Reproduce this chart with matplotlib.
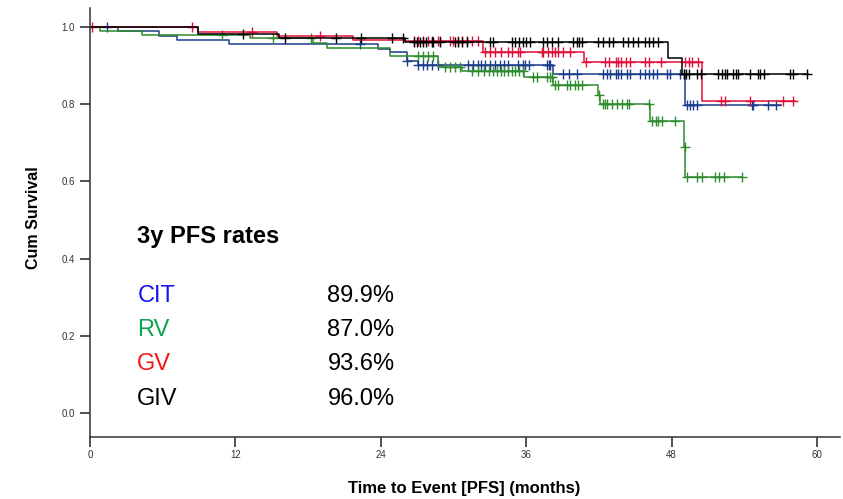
import numpy as np
import matplotlib.pyplot as plt

plt.rcParams["font.family"] = ["Liberation Sans", "DejaVu Sans"]

# Kaplan-Meier step data (months, cumulative survival)
cit_times = [0, 2.3, 5.7, 7.2, 11.5, 23.8, 24.8, 26.2, 27.1, 38.2, 49.1]
cit_surv = [1.0, 0.990, 0.977, 0.966, 0.956, 0.943, 0.934, 0.911, 0.900, 0.877, 0.797]
cit_end = 57.0
cit_cens = [1.4, 22.3, 26.2, 27.1, 27.5, 27.8, 28.2, 28.7, 31.2, 31.6, 32.0, 32.3, 32.6,
            33.0, 33.4, 33.8, 34.2, 34.5, 35.3, 35.7, 35.9, 36.2, 37.7, 37.9, 38.0,
            39.0, 39.5, 40.2, 42.3, 42.7, 42.9, 43.4, 43.6, 43.8, 44.3, 44.6, 45.4,
            45.8, 46.1, 46.5, 46.8, 47.6, 47.9, 48.7, 49.0, 49.3, 49.5, 49.8, 50.1,
            54.6, 54.7, 56.0, 56.6]

rv_times = [0, 0.8, 4.3, 13.2, 18.4, 19.6, 24.8, 28.7, 30.7, 35.8, 38.2, 41.9, 42.1,
            46.2, 49.05, 49.15]
rv_surv = [1.0, 0.990, 0.980, 0.970, 0.959, 0.946, 0.924, 0.897, 0.886, 0.870, 0.850,
           0.824, 0.800, 0.756, 0.689, 0.611]
rv_end = 53.8
rv_cens = [10.9, 15.1, 18.2, 27.1, 27.5, 27.9, 28.3, 29.3, 29.7, 30.1, 30.5, 31.5, 32.0,
           32.5, 32.9, 33.3, 33.6, 33.9, 34.2, 34.5, 34.8, 35.1, 35.4, 35.7, 36.6, 36.9,
           37.7, 38.0, 38.1, 38.4, 38.6, 39.4, 39.6, 40.0, 40.3, 40.6, 42.0, 42.3, 42.5,
           42.7, 43.1, 43.5, 43.9, 44.3, 44.5, 46.1, 46.4, 46.7, 46.9, 47.2, 48.3, 49.1,
           49.3, 50.1, 50.5, 51.6, 51.9, 52.3, 53.8]

gv_times = [0, 8.9, 15.4, 21.7, 26.0, 32.4, 40.8, 50.5]
gv_surv = [1.0, 0.987, 0.976, 0.966, 0.962, 0.934, 0.908, 0.808]
gv_end = 58.2
gv_cens = [0.15, 8.4, 13.4, 19.0, 26.7, 27.1, 27.5, 27.9, 28.2, 28.7, 28.9, 29.7, 30.0,
           30.4, 30.7, 31.1, 31.5, 32.0, 32.6, 33.0, 33.4, 33.9, 34.5, 34.8, 35.3, 35.5,
           37.3, 37.4, 37.8, 38.1, 38.4, 38.6, 39.0, 39.6, 40.9, 42.5, 42.8, 43.4, 43.6,
           43.8, 44.2, 44.6, 45.8, 46.1, 47.1, 49.1, 49.4, 49.7, 50.2, 52.1, 52.4, 54.5,
           57.2, 58.0]

giv_times = [0, 8.9, 15.6, 26.0, 47.7, 48.9]
giv_surv = [1.0, 0.982, 0.972, 0.960, 0.918, 0.877]
giv_end = 59.3
giv_cens = [12.6, 16.1, 20.3, 22.4, 24.9, 25.8, 26.7, 27.0, 27.2, 27.5, 27.7, 28.2, 28.3,
            28.9, 30.1, 30.4, 30.7, 31.1, 33.0, 33.3, 34.8, 35.1, 35.4, 35.7, 36.0, 36.3,
            37.4, 37.7, 38.1, 38.6, 39.9, 40.2, 40.4, 40.6, 41.9, 42.3, 42.8, 43.2, 44.0,
            44.4, 44.8, 45.2, 45.8, 46.1, 46.5, 46.9, 49.0, 49.2, 49.4, 50.1, 50.4, 51.8,
            52.2, 52.4, 52.6, 53.1, 53.3, 53.5, 54.5, 55.1, 55.3, 55.6, 57.8, 58.0, 59.2]

groups = ["CIT", "RV", "GV", "GIV"]
rates = ["89.9%", "87.0%", "93.6%", "96.0%"]
colors = ["#1c3d8c", "#2e8b2e", "#e0103c", "#000000"]
label_colors = ["#1414f0", "#10a24c", "#f01818", "#000000"]

curves = [
    (cit_times, cit_surv, cit_end, cit_cens),
    (rv_times, rv_surv, rv_end, rv_cens),
    (gv_times, gv_surv, gv_end, gv_cens),
    (giv_times, giv_surv, giv_end, giv_cens),
]

fig = plt.figure(figsize=(8.43, 4.99), dpi=100)
ax = fig.add_axes([0.1068, 0.1242, 0.8896, 0.86])

for (times, surv, end, cens), col in zip(curves, colors):
    t = list(times) + [end]
    s = list(surv) + [surv[-1]]
    ax.step(t, s, where="post", color=col, linewidth=1.1)
    # censor marks sit on the curve value at their time
    idx = np.searchsorted(times, cens, side="right") - 1
    cy = np.array(surv)[idx]
    ax.plot(cens, cy, linestyle="none", marker="+", markersize=7,
            markeredgewidth=1.0, color=col)

# PFS rate table
ax.text(3.9, 0.456, "3y PFS rates", fontsize=17, fontweight="bold",
        va="center", ha="left")
rate_y = [0.303, 0.215, 0.127, 0.036]
for g, r, c, yy in zip(groups, rates, label_colors, rate_y):
    ax.text(3.9, yy, g, color=c, fontsize=17, va="center", ha="left")
    ax.text(19.6, yy, r, color="black", fontsize=17, va="center", ha="left")

ax.set_xlim(0, 61.9)
ax.set_ylim(-0.062, 1.049)
ax.set_xticks([0, 12, 24, 36, 48, 60])
ax.set_yticks([0.0, 0.2, 0.4, 0.6, 0.8, 1.0])
ax.set_yticklabels(["0.0", "0.2", "0.4", "0.6", "0.8", "1.0"])

for side in ["top", "right"]:
    ax.spines[side].set_visible(False)
for side in ["left", "bottom"]:
    ax.spines[side].set_linewidth(1.1)
    ax.spines[side].set_color("#333333")

ax.tick_params(axis="x", direction="out", length=7, width=1.2, labelsize=7,
               colors="#333333", pad=2)
ax.tick_params(axis="y", direction="out", length=7, width=1.2, labelsize=7,
               colors="#333333", pad=4)

fig.text(464 / 843, 1 - 488 / 499, "Time to Event [PFS] (months)", fontsize=12,
         fontweight="bold", ha="center", va="center")
fig.text(33 / 843, 1 - 218 / 499, "Cum Survival", fontsize=11.5, fontweight="bold",
         rotation=90, ha="center", va="center")

fig.savefig("out.png", dpi=100)
